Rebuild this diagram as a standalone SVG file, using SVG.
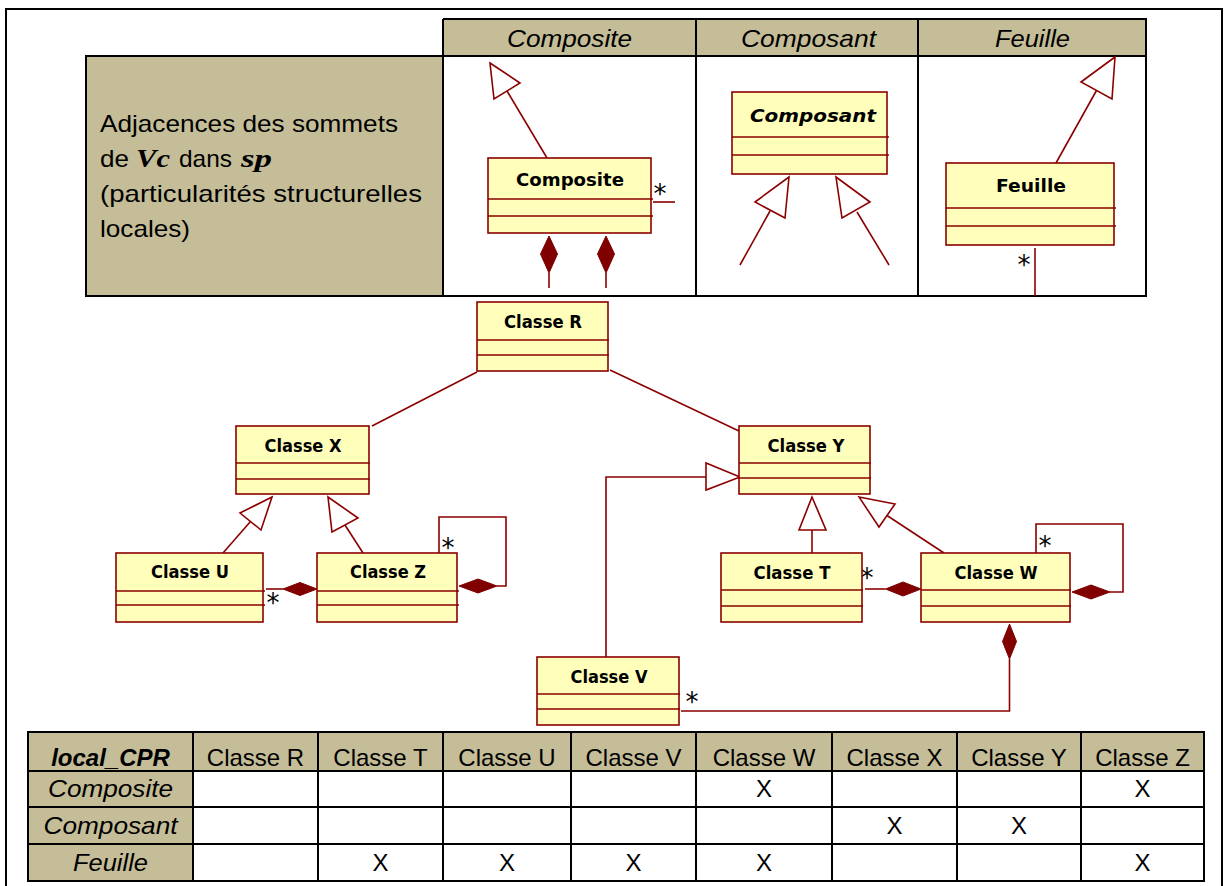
<svg xmlns="http://www.w3.org/2000/svg" width="1226" height="886" viewBox="0 0 1226 886">
<style>
.cls{fill:#FFFFBB;stroke:#8B0000;stroke-width:1.6}
.dv{stroke:#8B0000;stroke-width:1.6}
.ln{fill:none;stroke:#8B0000;stroke-width:1.6}
.gen{fill:#FFFFFF;stroke:#8B0000;stroke-width:1.6}
.cmp{fill:#800000;stroke:#800000;stroke-width:1}
.t{font-family:"DejaVu Sans",Verdana,sans-serif;font-weight:bold;font-size:17.5px;text-anchor:middle;fill:#000}
.t2{font-family:"DejaVu Sans",Verdana,sans-serif;font-weight:bold;font-size:18.5px;text-anchor:middle;fill:#000}
.star{font-family:"DejaVu Sans",sans-serif;font-size:26px;text-anchor:middle;fill:#000}
.tb{stroke:#000;stroke-width:2;fill:none}
.tan{fill:#C4BD97}
.cal{font-family:"Liberation Sans",Arial,sans-serif;font-size:24px;fill:#000}
.it{font-style:italic}
.mid{text-anchor:middle}
.m{font-family:"Liberation Serif","Times New Roman",serif;font-weight:bold;font-style:italic;font-size:26px}
</style>
<rect x="0" y="0" width="1226" height="886" fill="#FFFFFF"/>
<rect x="6" y="9" width="1216" height="900" fill="none" stroke="#000" stroke-width="2"/>

<g id="top-table">
  <rect class="tan" x="443" y="19" width="703" height="37"/>
  <rect class="tan" x="86" y="56" width="357" height="240"/>
  <path class="tb" d="M443,19 H1146 V296 H86 V56 H1146 M443,19 V296 M696,19 V296 M918,19 V296" stroke-width="2.5"/>
  <text class="cal it mid" x="569.5" y="47" textLength="125" lengthAdjust="spacingAndGlyphs">Composite</text>
  <text class="cal it mid" x="808.5" y="47" textLength="135" lengthAdjust="spacingAndGlyphs">Composant</text>
  <text class="cal it mid" x="1032.5" y="47" textLength="75" lengthAdjust="spacingAndGlyphs">Feuille</text>
  <text class="cal" x="100" y="132" textLength="298" lengthAdjust="spacingAndGlyphs">Adjacences des sommets</text>
  <text class="cal" x="100" y="167" textLength="29" lengthAdjust="spacingAndGlyphs">de</text>
  <text class="m" x="136" y="167" textLength="34" lengthAdjust="spacingAndGlyphs">Vc</text>
  <text class="cal" x="179" y="167" textLength="53" lengthAdjust="spacingAndGlyphs">dans</text>
  <text class="m" x="241" y="167" textLength="31" lengthAdjust="spacingAndGlyphs">sp</text>
  <text class="cal" x="100" y="202" textLength="322" lengthAdjust="spacingAndGlyphs">(particularités structurelles</text>
  <text class="cal" x="100" y="237" textLength="90" lengthAdjust="spacingAndGlyphs">locales)</text>
</g>

<g id="pattern-composite">
  <rect class="cls" x="488" y="158" width="163" height="75"/>
  <line class="dv" x1="488" y1="199" x2="653" y2="199"/>
  <line class="dv" x1="488" y1="216" x2="653" y2="216"/>
  <text class="t2" x="570" y="186" textLength="108" lengthAdjust="spacingAndGlyphs">Composite</text>
  <line class="ln" x1="547" y1="158" x2="507" y2="91"/>
  <polygon class="gen" points="490,63 520,83 494,99"/>
  <line class="ln" x1="653" y1="202" x2="675" y2="202"/>
  <text class="star" x="660" y="202.5">*</text>
  <line class="ln" x1="549" y1="273" x2="549" y2="288"/>
  <polygon class="cmp" points="549,236 557.5,254 549,273 540.5,254"/>
  <line class="ln" x1="606" y1="273" x2="606" y2="288"/>
  <polygon class="cmp" points="606,236 614.5,254 606,273 597.5,254"/>
</g>

<g id="pattern-composant">
  <rect class="cls" x="732" y="92" width="155" height="82"/>
  <line class="dv" x1="732" y1="137" x2="889" y2="137"/>
  <line class="dv" x1="732" y1="155" x2="889" y2="155"/>
  <text class="t2" x="813" y="122" font-style="italic" textLength="126" lengthAdjust="spacingAndGlyphs">Composant</text>
  <line class="ln" x1="770" y1="211" x2="740" y2="265"/>
  <polygon class="gen" points="789,177 755,202 785,218"/>
  <line class="ln" x1="857" y1="212" x2="889" y2="265"/>
  <polygon class="gen" points="836,177 870,202 842,218"/>
</g>

<g id="pattern-feuille">
  <rect class="cls" x="946" y="163" width="168" height="82"/>
  <line class="dv" x1="946" y1="208" x2="1116" y2="208"/>
  <line class="dv" x1="946" y1="226" x2="1116" y2="226"/>
  <text class="t2" x="1031" y="192" textLength="70" lengthAdjust="spacingAndGlyphs">Feuille</text>
  <line class="ln" x1="1056" y1="163" x2="1096.5" y2="90.5"/>
  <polygon class="gen" points="1115,57 1081,82 1112,99"/>
  <line class="ln" x1="1035" y1="248" x2="1035" y2="296"/>
  <text class="star" x="1024" y="274">*</text>
</g>

<g id="connectors">
  <line class="ln" x1="477" y1="372" x2="372" y2="426"/>
  <line class="ln" x1="610" y1="370" x2="739" y2="431"/>
  <line class="ln" x1="223" y1="553" x2="250.5" y2="521.5"/>
  <polygon class="gen" points="272,497 240,513 261,530"/>
  <line class="ln" x1="363" y1="553" x2="345" y2="525"/>
  <polygon class="gen" points="328,497 358,518 332,532"/>
  <line class="ln" x1="266" y1="589" x2="283" y2="589"/>
  <polygon class="cmp" points="283,589 300,582.5 317,589 300,595.5"/>
  <text class="star" x="273" y="612">*</text>
  <path class="ln" d="M497,586 H506 V517 H439 V553"/>
  <polygon class="cmp" points="459,586 478,579 497,586 478,593"/>
  <text class="star" x="448" y="557">*</text>
  <path class="ln" d="M606,657 V477 H706"/>
  <polygon class="gen" points="740,477 706,463 706,490"/>
  <line class="ln" x1="812" y1="553" x2="812" y2="530"/>
  <polygon class="gen" points="812,497 799,530 826,530"/>
  <line class="ln" x1="944" y1="553" x2="887" y2="515.5"/>
  <polygon class="gen" points="859,497 895,504 879,527"/>
  <line class="ln" x1="865" y1="589" x2="885.5" y2="589"/>
  <polygon class="cmp" points="885.5,589 903,582 921,589 903,596"/>
  <text class="star" x="867" y="587">*</text>
  <path class="ln" d="M1110,592 H1123 V524 H1036 V553"/>
  <polygon class="cmp" points="1072,592 1091,585 1110,592 1091,599"/>
  <text class="star" x="1045" y="555">*</text>
  <path class="ln" d="M1009.5,659 V711 H681"/>
  <polygon class="cmp" points="1009.5,624 1016.5,641.5 1009.5,659 1002.5,641.5"/>
  <text class="star" x="692" y="711">*</text>
</g>

<g id="classe-r">
  <rect class="cls" x="477" y="302" width="131" height="69"/>
  <line class="dv" x1="477" y1="340" x2="609" y2="340"/>
  <line class="dv" x1="477" y1="355" x2="609" y2="355"/>
  <text class="t" x="543" y="328" textLength="78" lengthAdjust="spacingAndGlyphs">Classe R</text>
</g>
<g id="classe-x">
  <rect class="cls" x="236" y="426" width="133" height="68"/>
  <line class="dv" x1="236" y1="463" x2="370" y2="463"/>
  <line class="dv" x1="236" y1="479" x2="370" y2="479"/>
  <text class="t" x="303" y="452" textLength="77" lengthAdjust="spacingAndGlyphs">Classe X</text>
</g>
<g id="classe-y">
  <rect class="cls" x="739" y="426" width="131" height="68"/>
  <line class="dv" x1="739" y1="463" x2="871" y2="463"/>
  <line class="dv" x1="739" y1="478" x2="871" y2="478"/>
  <text class="t" x="806" y="452" textLength="77" lengthAdjust="spacingAndGlyphs">Classe Y</text>
</g>
<g id="classe-u">
  <rect class="cls" x="116" y="553" width="147" height="69"/>
  <line class="dv" x1="116" y1="591" x2="265" y2="591"/>
  <line class="dv" x1="116" y1="605" x2="265" y2="605"/>
  <text class="t" x="190" y="578" textLength="78" lengthAdjust="spacingAndGlyphs">Classe U</text>
</g>
<g id="classe-z">
  <rect class="cls" x="317" y="553" width="140" height="69"/>
  <line class="dv" x1="317" y1="591" x2="459" y2="591"/>
  <line class="dv" x1="317" y1="605" x2="459" y2="605"/>
  <text class="t" x="388" y="578" textLength="76" lengthAdjust="spacingAndGlyphs">Classe Z</text>
</g>
<g id="classe-t">
  <rect class="cls" x="721" y="553" width="141" height="69"/>
  <line class="dv" x1="721" y1="590" x2="863" y2="590"/>
  <line class="dv" x1="721" y1="606" x2="863" y2="606"/>
  <text class="t" x="792" y="579" textLength="77" lengthAdjust="spacingAndGlyphs">Classe T</text>
</g>
<g id="classe-w">
  <rect class="cls" x="921" y="553" width="149" height="69"/>
  <line class="dv" x1="921" y1="590" x2="1071" y2="590"/>
  <line class="dv" x1="921" y1="606" x2="1071" y2="606"/>
  <text class="t" x="996" y="579" textLength="83" lengthAdjust="spacingAndGlyphs">Classe W</text>
</g>
<g id="classe-v">
  <rect class="cls" x="537" y="657" width="142" height="68"/>
  <line class="dv" x1="537" y1="694" x2="680" y2="694"/>
  <line class="dv" x1="537" y1="709" x2="680" y2="709"/>
  <text class="t" x="609" y="683" textLength="77" lengthAdjust="spacingAndGlyphs">Classe V</text>
</g>

<g id="local-cpr-table">
  <rect class="tan" x="28" y="732" width="1176" height="39"/>
  <rect class="tan" x="28" y="771" width="165" height="110"/>
  <path class="tb" d="M28,732 H1204 V881 H28 Z M28,771 H1204 M28,807 H1204 M28,844 H1204 M193,732 V881 M318,732 V881 M443,732 V881 M571,732 V881 M696,732 V881 M832,732 V881 M957,732 V881 M1081,732 V881"/>
  <text class="cal mid" x="110.5" y="766" font-weight="bold" font-style="italic">local_CPR</text>
  <text class="cal mid" x="255.5" y="766">Classe R</text>
  <text class="cal mid" x="380.5" y="766">Classe T</text>
  <text class="cal mid" x="507" y="766">Classe U</text>
  <text class="cal mid" x="633.5" y="766">Classe V</text>
  <text class="cal mid" x="764" y="766">Classe W</text>
  <text class="cal mid" x="894.5" y="766">Classe X</text>
  <text class="cal mid" x="1019" y="766">Classe Y</text>
  <text class="cal mid" x="1142.5" y="766">Classe Z</text>
  <text class="cal mid it" x="110.5" y="797" textLength="125" lengthAdjust="spacingAndGlyphs">Composite</text>
  <text class="cal mid it" x="110.5" y="834" textLength="134" lengthAdjust="spacingAndGlyphs">Composant</text>
  <text class="cal mid it" x="110.5" y="871" textLength="75" lengthAdjust="spacingAndGlyphs">Feuille</text>
  <text class="cal mid" x="764" y="797">X</text>
  <text class="cal mid" x="1142.5" y="797">X</text>
  <text class="cal mid" x="894.5" y="834">X</text>
  <text class="cal mid" x="1019" y="834">X</text>
  <text class="cal mid" x="380.5" y="871">X</text>
  <text class="cal mid" x="507" y="871">X</text>
  <text class="cal mid" x="633.5" y="871">X</text>
  <text class="cal mid" x="764" y="871">X</text>
  <text class="cal mid" x="1142.5" y="871">X</text>
</g>
</svg>
